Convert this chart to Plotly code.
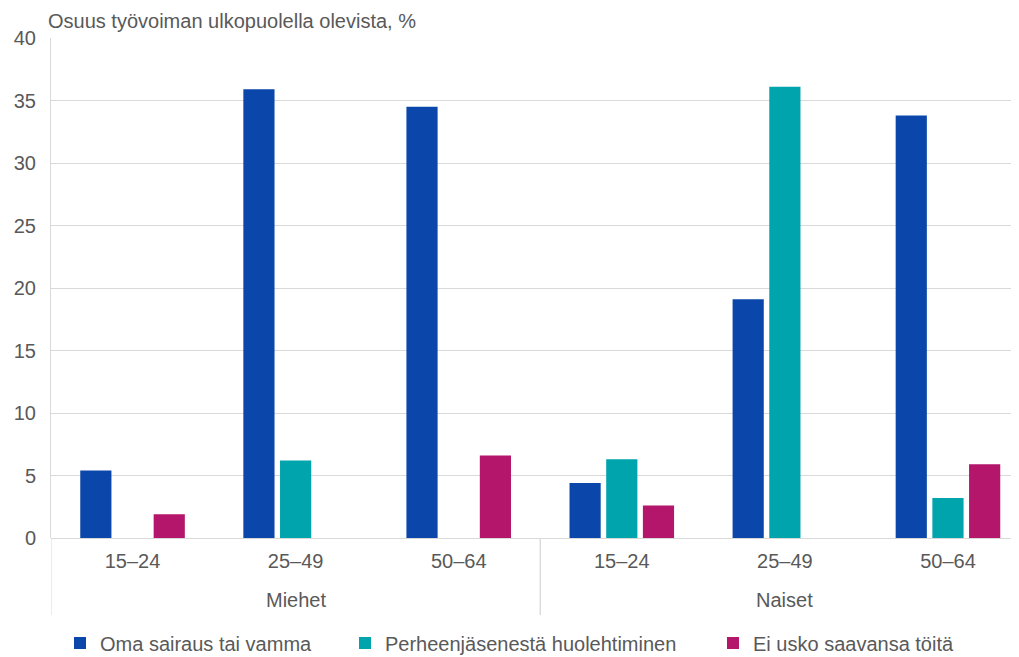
import plotly.graph_objects as go

groups = ["Miehet", "Miehet", "Miehet", "Naiset", "Naiset", "Naiset"]
ages = ["15–24", "25–49", "50–64", "15–24", "25–49", "50–64"]

oma = [5.4, 35.9, 34.5, 4.4, 19.1, 33.8]
perhe = [None, 6.2, None, 6.3, 36.1, 3.2]
ei = [1.9, None, 6.6, 2.6, None, 5.9]

series_names = ["Oma sairaus tai vamma", "Perheenjäsenestä huolehtiminen", "Ei usko saavansa töitä"]
colors = ["#0b47ab", "#00a4ad", "#b3166a"]
y_title = "Osuus työvoiman ulkopuolella olevista, %"
y_ticks = [0, 5, 10, 15, 20, 25, 30, 35, 40]

FONT = "Liberation Sans, Arial, sans-serif"
TXT = "#595959"
GRID = "#d9d9d9"
FS = 20

OFF = 8  # page body margin in the browser
W, H = 1019 - OFF, 657 - OFF
ML, MR, MT = 51 - OFF, 0, 38 - OFF
MB = H - (538 - OFF)
pw = W - ML - MR
ph = H - MT - MB

keys = [g + " " + a for g, a in zip(groups, ages)]

fig = go.Figure()
legend_ids = ["legend", "legend2", "legend3"]
for name, vals, col, lg in zip(series_names, [oma, perhe, ei], colors, legend_ids):
    fig.add_trace(go.Bar(
        x=keys, y=vals, name=name,
        marker=dict(color=col, line=dict(width=0)),
        legend=lg, showlegend=True,
    ))

def sx(px):
    # screen pixel -> paper x
    return (px - OFF - ML) / pw

def sy(py):
    # screen pixel -> paper y
    return (MT + ph - (py - OFF)) / ph

leg_common = dict(orientation="h", yanchor="middle", y=sy(643),
                  xanchor="left", font=dict(family=FONT, size=FS, color=TXT),
                  bgcolor="rgba(0,0,0,0)", borderwidth=0)

group_names = []
for g in groups:
    if g not in group_names:
        group_names.append(g)
annotations = [dict(
    text=y_title, xref="paper", yref="paper",
    x=sx(46), y=sy(8), xanchor="left", yanchor="top",
    showarrow=False, font=dict(family=FONT, size=FS, color=TXT),
)]
shapes = []
for g in group_names:
    idx = [i for i, gg in enumerate(groups) if gg == g]
    center = (idx[0] + idx[-1]) / 2
    annotations.append(dict(
        text=g, xref="x", yref="paper", x=center, y=sy(600),
        xanchor="center", yanchor="middle", showarrow=False,
        font=dict(family=FONT, size=FS, color=TXT),
    ))
    for edge in (idx[0] - 0.5, idx[-1] + 0.5):
        shapes.append(dict(
            type="line", xref="x", yref="paper", x0=edge, x1=edge,
            y0=0, y1=sy(615), line=dict(color=GRID, width=1), layer="below",
        ))

fig.update_layout(
    width=W, height=H,
    margin=dict(l=ML, r=MR, t=MT, b=MB, pad=0, autoexpand=False),
    paper_bgcolor="white", plot_bgcolor="white",
    barmode="group", bargap=0.325, bargroupgap=0.15,
    font=dict(family=FONT, size=FS, color=TXT),
    showlegend=True,
    legend=dict(leg_common, x=sx(60)),
    legend2=dict(leg_common, x=sx(345)),
    legend3=dict(leg_common, x=sx(713)),
    xaxis=dict(
        type="category",
        range=[-0.5, 5.5 - 10.5 / 163],
        tickvals=keys, ticktext=ages,
        showgrid=False, zeroline=False, showline=False,
        tickfont=dict(family=FONT, size=FS, color=TXT),
        ticks="", ticklabelstandoff=9,
        automargin=False,
    ),
    yaxis=dict(
        range=[0, 40], tickvals=y_ticks,
        showgrid=True, gridcolor=GRID, gridwidth=1,
        zeroline=True, zerolinecolor=GRID, zerolinewidth=1,
        showline=True, linecolor=GRID, linewidth=1,
        tickfont=dict(family=FONT, size=FS, color=TXT),
        ticklabelstandoff=10,
        automargin=False,
    ),
    annotations=annotations,
    shapes=shapes,
)

fig.write_html("out.html")
